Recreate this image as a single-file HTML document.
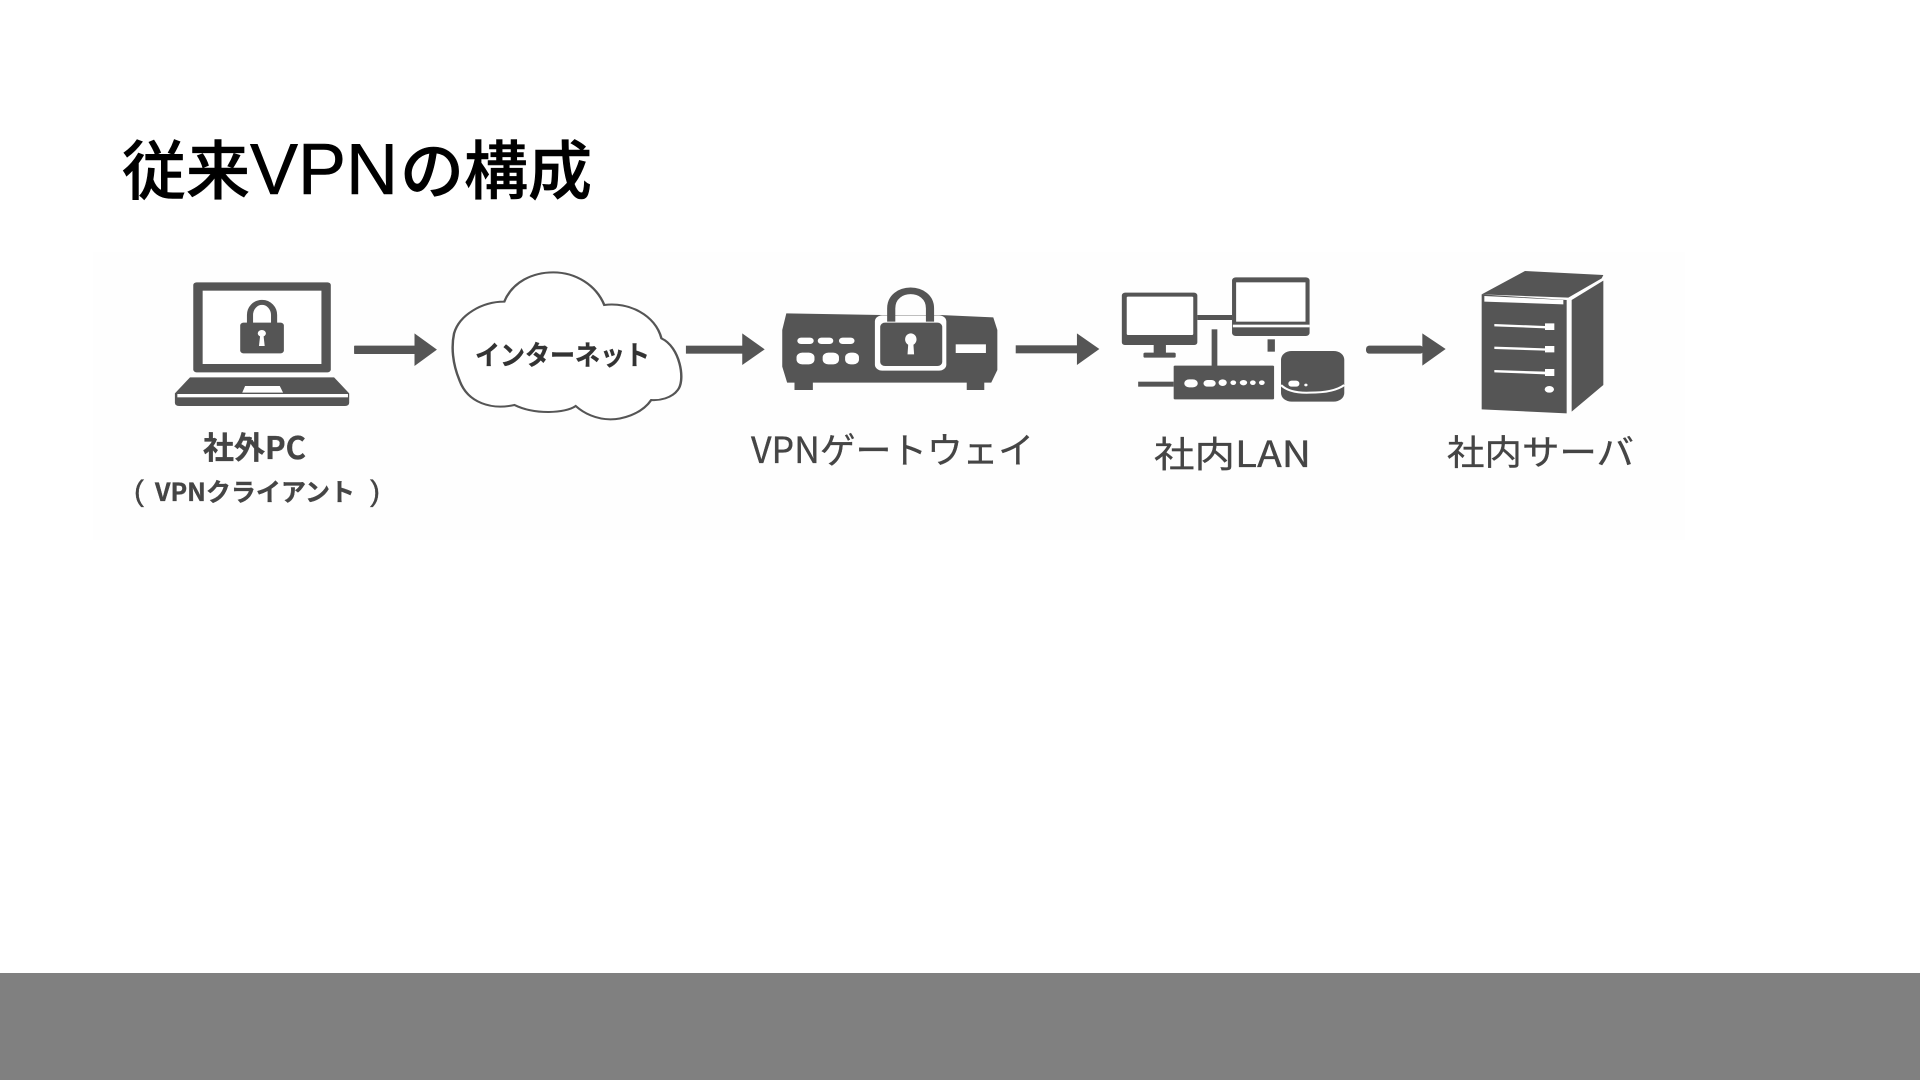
<!DOCTYPE html>
<html lang="ja"><head><meta charset="utf-8"><title>従来VPNの構成</title>
<style>
html,body{margin:0;padding:0;background:#fff;width:1920px;height:1080px;overflow:hidden}
svg{display:block}
text{font-family:"Noto Sans CJK JP","Liberation Sans",sans-serif;fill:#454545;stroke:#454545;stroke-width:.35}
</style></head><body>
<svg width="1920" height="1080" viewBox="0 0 1920 1080" xmlns="http://www.w3.org/2000/svg">
<rect width="1920" height="1080" fill="#fff"/>
<rect x="93" y="252" width="1592" height="288" fill="#fefefe"/>
<rect x="0" y="973" width="1920" height="107" fill="#808080"/>

<text y="194" style="fill:#000;font-weight:500;stroke:#000;stroke-width:.6" font-size="64"><tspan x="122">従来</tspan><tspan x="250" font-size="72" style="font-family:'Liberation Sans',sans-serif">VPN</tspan><tspan x="400">の構成</tspan></text>

<!-- laptop, arrow 1, cloud -->
<g transform="translate(90,250) scale(.40816,.33333)" fill="#555">
<rect x="253" y="97" width="337" height="270" rx="8"/>
<rect x="276" y="122" width="291" height="220" fill="#fff"/>
<path d="M392 225V195a29.500 38 0 0 1 59 0V225" fill="none" stroke="#555" stroke-width="15"/>
<rect x="368" y="218" width="107" height="92" rx="8"/>
<ellipse cx="421" cy="250" rx="10" ry="10" fill="#fff"/><path d="M417 255h8l3 33h-14z" fill="#fff"/>
<path d="M245 382H598L635 430V458Q635 468 625 468H218Q208 468 208 458V430Z"/>
<rect x="214" y="432" width="418" height="10" fill="#fff"/>
<path d="M373 428L380 408H465L473 428Z" fill="#fff"/>
<rect x="647" y="287" width="150" height="25" rx="2"/><path d="M795 250L850 299L795 348Z"/>
<path d="M1015 155C1035 95 1085 67 1135 67C1190 67 1240 105 1260 165C1320 155 1385 195 1400 265C1445 290 1460 390 1440 420C1425 445 1395 452 1375 450C1350 495 1300 508 1275 508C1240 508 1210 490 1190 468C1165 490 1090 495 1040 465C985 480 925 460 905 390C888 340 885 290 892 250C905 195 960 155 1015 155Z" fill="#fff" stroke="#555" stroke-width="6"/>
</g>
<text x="475" y="365" font-size="27" font-weight="700" textLength="175" lengthAdjust="spacingAndGlyphs" style="fill:#333;stroke:#333">インターネット</text>
<text x="203" y="459" font-size="31" font-weight="700" textLength="103" lengthAdjust="spacingAndGlyphs">社外PC</text>
<text x="134" y="501" font-size="30" style="font-family:'Liberation Sans',sans-serif">(</text>
<text x="155" y="501" font-size="25" font-weight="700" textLength="200" lengthAdjust="spacingAndGlyphs">VPNクライアント</text>
<text x="370" y="501" font-size="30" style="font-family:'Liberation Sans',sans-serif">)</text>

<!-- arrow 2, gateway, arrow 3, LAN -->
<g transform="translate(730,250) scale(.40816,.33333)" fill="#555">
<path d="M30 250L85 298L30 345Z"/>
<rect x="-108" y="287" width="140" height="24"/>
<path d="M138 190L370 195H515L645 202L655 240V360L640 398H140L128 350V240Z"/>
<rect x="158" y="395" width="45" height="25"/><rect x="580" y="395" width="43" height="25"/>
<rect x="165" y="263" width="40" height="19" rx="9" fill="#fff"/><rect x="215" y="263" width="38" height="19" rx="9" fill="#fff"/><rect x="267" y="263" width="38" height="19" rx="9" fill="#fff"/>
<rect x="163" y="308" width="44" height="35" rx="14" fill="#fff"/><rect x="227" y="308" width="40" height="35" rx="14" fill="#fff"/><rect x="282" y="308" width="34" height="35" rx="14" fill="#fff"/>
<rect x="553" y="283" width="74" height="26" fill="#fff"/>
<rect x="355" y="196" width="175" height="166" rx="18" fill="#fff"/>
<path d="M395 215V175C395 105 490 105 490 175V215" fill="none" stroke="#555" stroke-width="20"/>
<rect x="368" y="218" width="152" height="130" rx="12"/>
<ellipse cx="443" cy="268" rx="14" ry="18" fill="#fff"/><path d="M437 275h12l2 38h-16z" fill="#fff"/>
<rect x="700" y="286" width="152" height="24"/><path d="M850 250L905 297L850 345Z"/>
<rect x="960" y="128" width="185" height="157" rx="8"/><rect x="972" y="140" width="163" height="115" rx="3" fill="#fff"/>
<rect x="1038" y="285" width="30" height="25"/><rect x="1013" y="308" width="79" height="15" rx="4"/>
<rect x="1230" y="82" width="190" height="176" rx="9"/><rect x="1240" y="97" width="170" height="118" fill="#fff"/><rect x="1232" y="224" width="188" height="8" fill="#fff"/>
<rect x="1145" y="195" width="85" height="15"/>
<rect x="1317" y="268" width="18" height="37"/>
<rect x="1087" y="347" width="246" height="101" rx="3"/>
<rect x="1180" y="238" width="14" height="110"/>
<rect x="1000" y="395" width="87" height="15"/>
<g fill="#fff"><rect x="1113" y="388" width="33" height="24" rx="12"/><rect x="1160" y="390" width="30" height="20" rx="10"/><ellipse cx="1207" cy="398" rx="10" ry="10"/><ellipse cx="1233" cy="398" rx="7" ry="7"/><ellipse cx="1258" cy="398" rx="9" ry="8"/><ellipse cx="1281" cy="398" rx="7" ry="7"/><ellipse cx="1303" cy="398" rx="7" ry="7"/></g>
<rect x="1350" y="303" width="155" height="152" rx="26"/>
<path d="M1350 405Q1370 430 1420 428Q1480 428 1505 405" fill="none" stroke="#fff" stroke-width="6"/>
<rect x="1368" y="392" width="27" height="18" rx="8" fill="#fff"/><ellipse cx="1411" cy="405" rx="4" ry="4" fill="#fff"/>
</g>

<!-- arrow 4, server -->
<g transform="translate(1360,250) scale(.33333)" fill="#555">
<rect x="18" y="287" width="172" height="24" rx="10"/><path d="M187 250L257 297L187 347Z"/>
<path d="M365 133L495 63L730 75L725 85L625 143Z"/>
<path d="M365 133L620 150V490L365 478Z"/>
<path d="M373 138L610 150V163L373 155Z" fill="#fff"/>
<path d="M635 150L730 92V405L635 485Z"/>
<path d="M403 222L555 228V220H583V240H555V235L403 229Z" fill="#fff"/>
<path d="M403 290L555 295V288H583V307H555V302L403 297Z" fill="#fff"/>
<path d="M403 360L555 365V357H583V378H555V373L403 367Z" fill="#fff"/>
<ellipse cx="568" cy="418" rx="14" ry="10" fill="#fff"/>
</g>
<text x="751" y="463" font-size="36" textLength="283" lengthAdjust="spacingAndGlyphs">VPNゲートウェイ</text>
<text x="1154" y="467" font-size="36" textLength="157" lengthAdjust="spacingAndGlyphs">社内LAN</text>
<text x="1447" y="465" font-size="35" textLength="187" lengthAdjust="spacingAndGlyphs">社内サーバ</text>
</svg>
</body></html>
